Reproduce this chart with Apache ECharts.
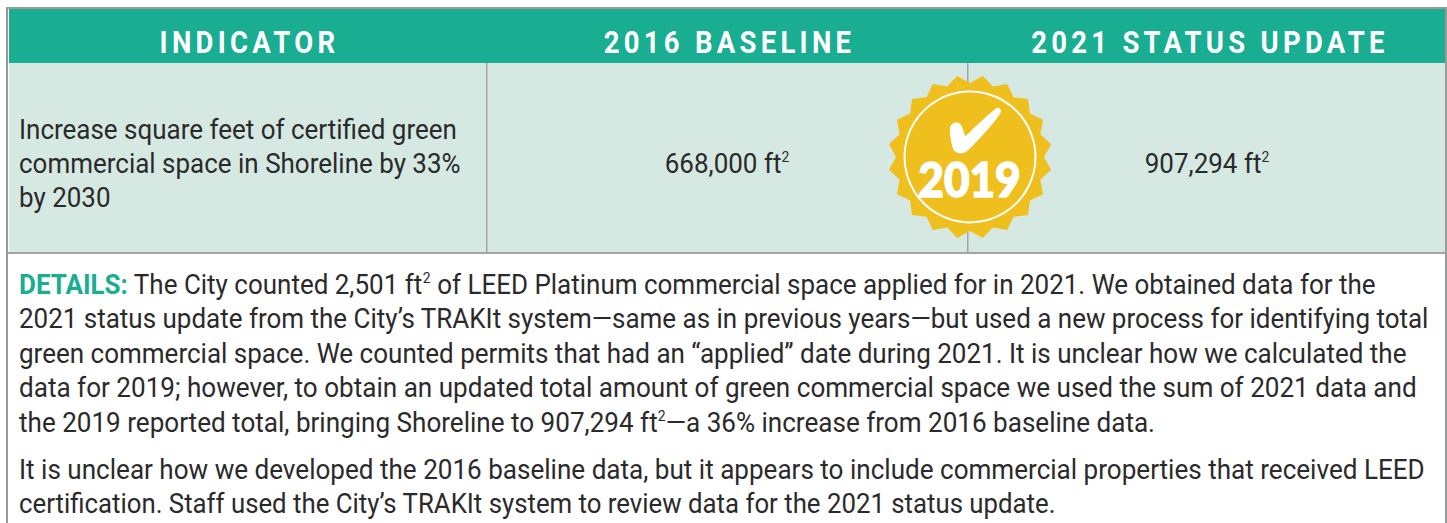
<!DOCTYPE html>
<html><head><meta charset="utf-8">
<style>
html,body{margin:0;padding:0;background:#fff}
#c{width:1447px;height:523px}
svg text[fill="#fff"]{letter-spacing:4.95px}
</style>
<script src="https://cdn.jsdelivr.net/npm/echarts@6/dist/echarts.min.js"></script>
</head><body><div id="c"></div>
<script>
const headers = ['INDICATOR', '2016 BASELINE', '2021 STATUS UPDATE'];
const indicatorLines = ['Increase square feet of certified green', 'commercial space in Shoreline by 33%', 'by 2030'];
const baselineValue = '668,000 ft{s|2}';
const statusValue = '907,294 ft{s|2}';
const badgeYear = '2019';
const detailLines = [
  '{d|DETAILS:} The City counted 2,501 ft{s|2} of LEED Platinum commercial space applied for in 2021. We obtained data for the',
  '2021 status update from the City\u2019s TRAKIt system\u2014same as in previous years\u2014but used a new process for identifying total',
  'green commercial space. We counted permits that had an \u201capplied\u201d date during 2021. It is unclear how we calculated the',
  'data for 2019; however, to obtain an updated total amount of green commercial space we used the sum of 2021 data and',
  'the 2019 reported total, bringing Shoreline to 907,294 ft{s|2}\u2014a 36% increase from 2016 baseline data.',
  '',
  'It is unclear how we developed the 2016 baseline data, but it appears to include commercial properties that received LEED',
  'certification. Staff used the City\u2019s TRAKIt system to review data for the 2021 status update.'
];
const detailY = [285, 319, 354, 388, 423, 0, 470, 504];
const detailFit = [1.0, 1.0, 1.001, 1.004, 1.003, 1, 1.003, 0.992];

const TEAL='#19ad91', MINT='#d5e9e2', GREY='#a3a5a5', INK='#2b2a2b', GOLD='#efbf1d';
const FONT='Roboto';
const SX=0.928;
function rich(size){return {
  s:{fontFamily:FONT,fontSize:15,fill:INK,verticalAlign:'top',lineHeight:size+4,padding:[2,0,0,0]},
  d:{fontFamily:FONT,fontSize:size,fontWeight:'bold',fill:TEAL,lineHeight:size+4}
};}
function txt(x,y,t,o){o=o||{};const size=o.size||28;return {type:'text',x:x,y:y,scaleX:o.sx||SX,z:o.z||5,
  style:{x:0,y:0,text:t,fontFamily:FONT,fontSize:size,fontWeight:o.weight||'normal',fill:o.fill||INK,
    align:o.align||'left',verticalAlign:'middle',lineHeight:size+4,rich:rich(size)}};}
function rect(x,y,w,h,fill,z){return {type:'rect',shape:{x:x,y:y,width:w,height:h},style:{fill:fill},z:z||1,silent:true};}

echarts.graphic.registerShape('badgeCheck',echarts.graphic.extendPath(
  'M-60 -90 C-50 -108 -30 -108 -24 -90 L-14 -62 C10 -85 50 -125 78 -146 C88 -152 96 -142 92 -132 C75 -105 30 -55 -8 -18 C-20 -8 -38 -8 -50 -22 C-56 -40 -62 -70 -60 -90 Z',{}));

const els=[
  rect(9,9,1437,54,TEAL),
  rect(9,63,1437,189,MINT),
  rect(6,7,1441,2,'#999b9b',2),
  rect(6,7,2,516,'#999b9b',2),
  rect(1445,7,2,516,'#999b9b',2),
  rect(8,252,1437,2,GREY,2),
  rect(486,63,1.5,189,GREY,2),
  rect(967,63,1.5,189,GREY,2)
];
const headX=[249.5,729.5,1210];
headers.forEach((h,i)=>els.push({type:'text',x:headX[i],y:42,scaleX:0.86,z:5,
  style:{x:0,y:0,text:h,fontFamily:FONT,fontSize:32,fontWeight:'bold',fill:'#fff',align:'center',verticalAlign:'middle'}}));
const rowY=[130,164,198];
indicatorLines.forEach((l,i)=>els.push(txt(19,rowY[i],l)));
els.push(txt(727,164,baselineValue,{align:'center'}));
els.push(txt(1207,164,statusValue,{align:'center'}));
detailLines.forEach((l,i)=>{if(l)els.push(txt(19,detailY[i],l,{sx:SX*detailFit[i]}));});

// badge: 20-point seal
const pts=[];const N=20,R=82,r=74;
for(let i=0;i<N*2;i++){const a=((i+1)*Math.PI/N)-Math.PI/2;
  const rad=i%2?r:R; pts.push([rad*Math.cos(a),rad*Math.sin(a)]);}
els.push({type:'polygon',x:970,y:157,shape:{points:pts},style:{fill:GOLD},z:6});
els.push({type:'circle',x:970,y:157,shape:{r:65.5},style:{fill:GOLD,stroke:'#fff',lineWidth:2},z:7});
els.push({type:'badgeCheck',x:970,y:157,z:8,scaleX:1/3,scaleY:1/3,style:{fill:'#fff'}});
els.push({type:'text',x:969.5,y:178,z:8,scaleX:0.92,
  style:{x:0,y:0,text:badgeYear,fontFamily:'Lato',fontSize:48,fontWeight:900,fill:'#ffffff',stroke:'#ffffff',lineWidth:1.5,align:'center',verticalAlign:'middle'}});

const chart=echarts.init(document.getElementById('c'),null,{renderer:'svg'});
chart.setOption({animation:false,backgroundColor:'#fff',graphic:{elements:els}});
</script></body></html>
